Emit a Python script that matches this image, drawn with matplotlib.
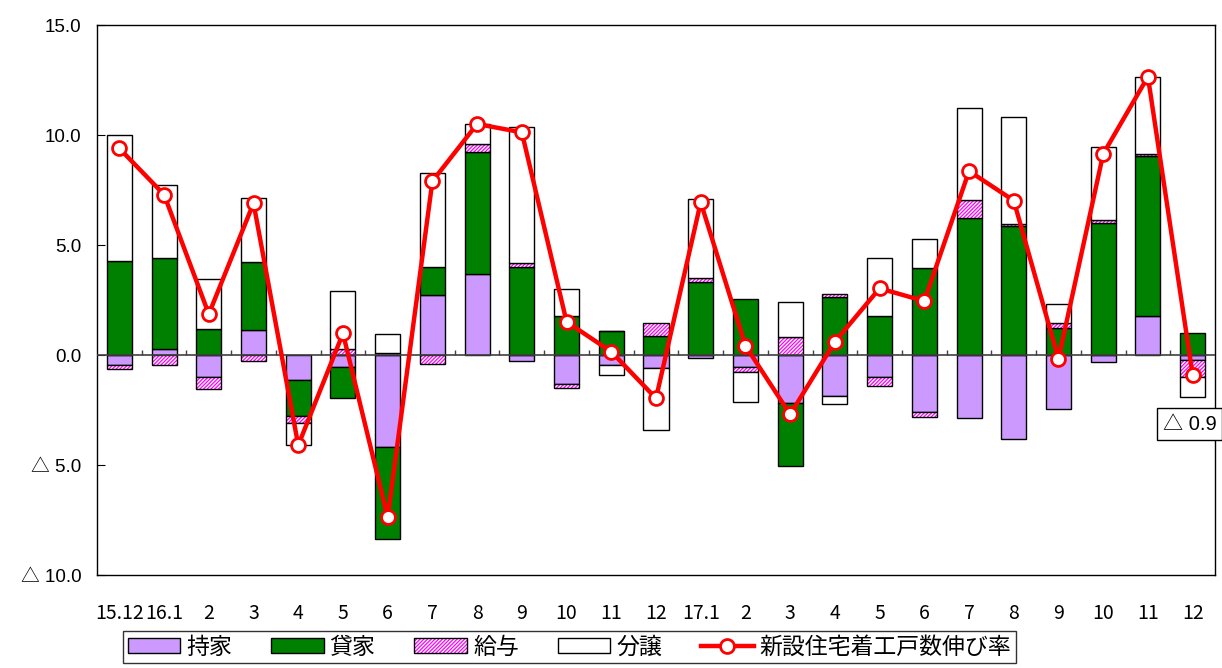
import numpy as np
import matplotlib
matplotlib.use('Agg')
import matplotlib.pyplot as plt
from matplotlib.patches import Patch
from matplotlib.lines import Line2D

plt.rcParams['font.family'] = ['Noto Sans CJK JP', 'DejaVu Sans']
plt.rcParams['hatch.linewidth'] = 0.9

# categories (month labels)
labels = ['15.12', '16.1', '2', '3', '4', '5', '6', '7', '8', '9', '10', '11', '12',
          '17.1', '2', '3', '4', '5', '6', '7', '8', '9', '10', '11', '12']

# contributions (points) by tenure
mochiie = [-0.45, 0.26, -1.0, 1.14, -1.14, -0.53, -4.2, 2.73, 3.67, -0.26, -1.33, -0.45, -0.61,
           -0.15, -0.53, -2.2, -1.86, -1.02, -2.61, -2.85, -3.82, -2.47, -0.3, 1.79, -0.23]
kashiya = [4.26, 4.13, 1.18, 3.07, -1.63, -1.44, -4.15, 1.26, 5.54, 3.99, 1.77, 1.08, 0.86,
           3.3, 2.53, -2.85, 2.65, 1.76, 3.94, 6.24, 5.88, 1.24, 5.98, 7.26, 0.98]
kyuyo = [-0.2, -0.45, -0.55, -0.26, -0.31, 0.26, 0.1, -0.42, 0.38, 0.18, -0.15, 0.0, 0.58,
         0.18, -0.26, 0.8, 0.14, -0.37, -0.22, 0.81, 0.07, 0.2, 0.16, 0.09, -0.79]
bunjo = [5.75, 3.32, 2.26, 2.94, -1.01, 2.63, 0.85, 4.28, 0.9, 6.18, 1.25, -0.46, -2.8,
         3.61, -1.33, 1.59, -0.37, 2.63, 1.33, 4.16, 4.85, 0.86, 3.3, 3.48, -0.9]
# total growth rate
growth = [9.39, 7.29, 1.86, 6.9, -4.1, 0.98, -7.38, 7.9, 10.5, 10.12, 1.51, 0.15, -1.97,
          6.94, 0.42, -2.7, 0.6, 3.03, 2.45, 8.36, 7.02, -0.18, 9.14, 12.65, -0.91]

x = np.arange(len(labels))
width = 0.56
purple = '#cc99ff'
green = '#008000'
pink = '#ff00ff'
hatch = '/////////'

fig = plt.figure(figsize=(12.22, 6.68), dpi=100)
ax = fig.add_axes([97 / 1222, 1 - 575 / 668, (1215 - 97) / 1222, 550 / 668])

pos_base = np.zeros(len(x))
neg_base = np.zeros(len(x))
series = [(mochiie, purple, None), (kashiya, green, None),
          (kyuyo, 'white', hatch), (bunjo, 'white', None)]
for vals, fc, h in series:
    v = np.array(vals)
    base = np.where(v >= 0, pos_base, neg_base)
    if h:
        ax.bar(x, v, width, bottom=base, color='white', edgecolor=pink,
               hatch=h, linewidth=0, zorder=2)
        ax.bar(x, v, width, bottom=base, color='none', edgecolor='black',
               linewidth=1, zorder=2)
    else:
        ax.bar(x, v, width, bottom=base, color=fc, edgecolor='black',
               linewidth=1, zorder=2)
    pos_base = pos_base + np.where(v >= 0, v, 0)
    neg_base = neg_base + np.where(v < 0, v, 0)

# zero line with category separators
ax.axhline(0, color='#404040', lw=1.2, zorder=3)
ax.vlines(x[:-1] + 0.5, 0, 0.23, color='#404040', lw=1, zorder=3)

ax.plot(x, growth, color='#ff0000', lw=3.2, marker='o', markersize=10,
        markerfacecolor='white', markeredgecolor='#ff0000', markeredgewidth=2, zorder=4)

ax.annotate(f'△ {abs(growth[-1]):.1f}', xy=(x[-1], growth[-1]), xytext=(-30, -49),
            textcoords='offset pixels', va='center', ha='left', fontsize=14.5,
            family=['Liberation Sans', 'Noto Sans CJK JP'], annotation_clip=False,
            bbox=dict(boxstyle='square,pad=0.3', fc='white', ec='black', lw=1), zorder=5)

ax.set_xlim(-0.5, len(x) - 0.5)
ax.set_ylim(-10, 15)
yt = [-10, -5, 0, 5, 10, 15]
ax.set_yticks(yt)
ax.set_yticklabels([f'{v:.1f}' if v >= 0 else f'△ {abs(v):.1f}' for v in yt],
                   family=['Liberation Sans', 'Noto Sans CJK JP'], fontsize=13.5)
ax.tick_params(axis='y', direction='in', length=6, pad=11)
ax.set_xticks(x)
ax.set_xticklabels(labels, fontsize=14)
ax.tick_params(axis='x', length=0, pad=20)
for s in ax.spines.values():
    s.set_color('black')
    s.set_linewidth(1)

handles = [Patch(facecolor=purple, edgecolor='black'),
           Patch(facecolor=green, edgecolor='black'),
           (Patch(facecolor='white', edgecolor=pink, hatch=hatch, linewidth=0),
            Patch(facecolor='none', edgecolor='black')),
           Patch(facecolor='white', edgecolor='black'),
           Line2D([], [], color='#ff0000', lw=3.2, marker='o', markersize=10,
                  markerfacecolor='white', markeredgecolor='#ff0000', markeredgewidth=2)]
names = ['持家', '貸家', '給与', '分譲', '新設住宅着工戸数伸び率']
leg = fig.legend(handles, names, loc='upper left', bbox_to_anchor=(123 / 1222, 1 - 631 / 668),
                 ncol=5, fontsize=16.5, frameon=True, fancybox=False, handlelength=2.3,
                 handleheight=0.57, handletextpad=0.26, columnspacing=1.7, borderpad=0.2,
                 borderaxespad=0)
leg.get_frame().set_edgecolor('black')
leg.get_frame().set_linewidth(1)

fig.savefig('out.png', dpi=100)
